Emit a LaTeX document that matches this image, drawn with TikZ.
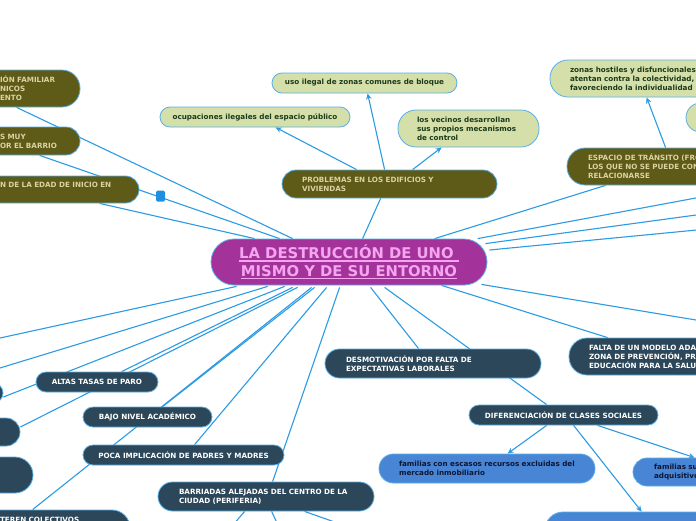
\documentclass[tikz,border=0pt]{standalone}
\usepackage{fontspec}
\setmainfont{DejaVu Sans}
\usetikzlibrary{arrows.meta,calc,backgrounds}
\definecolor{lnblue}{RGB}{43,155,227}
\definecolor{bdblue}{RGB}{90,175,230}
\definecolor{olivef}{RGB}{94,90,23}
\definecolor{olivet}{RGB}{218,211,162}
\definecolor{greenf}{RGB}{212,223,169}
\definecolor{greent}{RGB}{28,58,28}
\definecolor{slatef}{RGB}{44,71,89}
\definecolor{bluef}{RGB}{72,134,213}
\definecolor{bluet}{RGB}{13,21,51}
\definecolor{purplef}{RGB}{163,51,155}
\definecolor{purplet}{RGB}{244,165,238}
\definecolor{sqblue}{RGB}{31,144,223}
\newcommand\myul[1]{\setbox0\hbox{#1}\leavevmode\rlap{\rule[-2.8pt]{\wd0}{1.3pt}}\box0}
\newcommand\nb[1]{\mbox{#1}}
\tikzset{
  box/.style={draw=bdblue, line width=0.8pt, inner ysep=0pt, font=\fontsize{7.2}{9}\selectfont\bfseries},
  obox/.style={box, fill=olivef, text=olivet},
  gbox/.style={box, fill=greenf, text=greent},
  sbox/.style={box, fill=slatef, text=white},
  bbox/.style={box, fill=bluef, text=bluet},
  pbox/.style={box, fill=purplef, text=purplet, font=\fontsize{14.8}{17.5}\selectfont\bfseries},
  lft/.style={inner xsep=#1, align=left},
  conn/.style={draw=lnblue, line width=1.1pt},
  arr/.style={conn, -{Stealth[length=6pt,width=5.5pt]}},
}
\begin{document}
\begin{tikzpicture}[x=1pt,y=-1pt]
\useasboundingbox (0,0) rectangle (696,520);

% central
\node[pbox, minimum width=276pt, minimum height=46pt, rounded corners=23pt, align=center, inner xsep=0pt] (cen) at (349,262) {\myul{LA DESTRUCCIÓN DE UNO\ }\\\myul{MISMO Y DE SU ENTORNO}};

% olive
\node[obox, lft=20pt, minimum width=215pt, minimum height=28pt, rounded corners=14pt, text width=175pt] (prob) at (389.5,184) {\nb{PROBLEMAS EN LOS EDIFICIOS Y}\\\nb{VIVIENDAS}};
\node[obox, lft=21pt, minimum width=263pt, minimum height=37pt, rounded corners=18pt, text width=221pt] (esp) at (698.5,166.5) {\nb{ESPACIO DE TRÁNSITO (FRONTERAS) EN}\\\nb{LOS QUE NO SE PUEDE CONVIVIR NI}\\\nb{RELACIONARSE}};
\node[obox, lft=20pt, minimum width=100pt, minimum height=37pt, rounded corners=18pt, text width=60pt] (fam) at (30,88.5) {\nb{IÓN FAMILIAR}\\\nb{NICOS}\\\nb{ENTO}};
\node[obox, lft=20pt, minimum width=100pt, minimum height=28pt, rounded corners=14pt, text width=60pt] (muy) at (30,141) {\nb{S MUY}\\\nb{OR EL BARRIO}};
\node[obox, lft=20pt, minimum width=159pt, minimum height=27pt, rounded corners=13.5pt, text width=119pt] (edad) at (59.5,189.5) {\nb{N DE LA EDAD DE INICIO EN}\\~};

% green
\node[gbox, minimum width=185pt, minimum height=20pt, rounded corners=10pt] (uso) at (364.5,83) {uso ilegal de zonas comunes de bloque};
\node[gbox, minimum width=190pt, minimum height=20pt, rounded corners=10pt] (ocu) at (255,117) {ocupaciones ilegales del espacio público};
\node[gbox, lft=19pt, minimum width=141pt, minimum height=37pt, rounded corners=18pt, text width=103pt] (vec) at (468.5,128.5) {\nb{los vecinos desarrollan}\\\nb{sus propios mecanismos}\\\nb{de control}};
\node[gbox, lft=20pt, minimum width=250pt, minimum height=37pt, rounded corners=18pt, text width=210pt] (hos) at (675,78.5) {\nb{zonas hostiles y disfuncionales que}\\\nb{atentan contra la colectividad,}\\\nb{favoreciendo la individualidad}};
\node[gbox, minimum width=74pt, minimum height=29pt, rounded corners=14.5pt] (sm) at (723,117.5) {};

% slate
\node[sbox, minimum width=122pt, minimum height=20pt, rounded corners=10pt] (paro) at (97,382) {ALTAS TASAS DE PARO};
\node[sbox, minimum width=129pt, minimum height=20pt, rounded corners=10pt] (bajo) at (147.5,417) {BAJO NIVEL ACADÉMICO};
\node[sbox, minimum width=201pt, minimum height=20pt, rounded corners=10pt] (poca) at (183.5,455) {POCA IMPLICACIÓN DE PADRES Y MADRES};
\node[sbox, lft=21pt, minimum width=216pt, minimum height=29pt, rounded corners=14.5pt, text width=174pt] (barr) at (266,496.5) {\nb{BARRIADAS ALEJADAS DEL CENTRO DE LA}\\\nb{CIUDAD (PERIFERIA)}};
\node[sbox, lft=21pt, minimum width=216pt, minimum height=29pt, rounded corners=14.5pt, text width=174pt] (desm) at (433,363.5) {\nb{DESMOTIVACIÓN POR FALTA DE}\\\nb{EXPECTATIVAS LABORALES}};
\node[sbox, minimum width=189pt, minimum height=20pt, rounded corners=10pt] (dif) at (563.5,415) {DIFERENCIACIÓN DE CLASES SOCIALES};
\node[sbox, lft=20pt, minimum width=261pt, minimum height=37pt, rounded corners=18pt, text width=221pt] (falta) at (699.5,356.5) {\nb{FALTA DE UN MODELO ADAPTADO A LA}\\\nb{ZONA DE PREVENCIÓN, PROMOCIÓN Y}\\\nb{EDUCACIÓN PARA LA SALUD}};
\node[sbox, minimum width=103pt, minimum height=20pt, rounded corners=10pt] (sla) at (-48.5,393) {};
\node[sbox, minimum width=120pt, minimum height=28pt, rounded corners=14pt] (slb) at (-40,432) {};
\node[sbox, minimum width=133pt, minimum height=36pt, rounded corners=18pt] (slc) at (-33.5,475) {};
\node[sbox, lft=20pt, minimum width=150pt, minimum height=37pt, rounded corners=18pt, text width=110pt] (sld) at (55,528.5) {\nb{TEREN COLECTIVOS}\\~\\~};

% blue
\node[bbox, lft=20pt, minimum width=216pt, minimum height=29pt, rounded corners=14.5pt, text width=176pt] (esc) at (487,468.5) {\nb{familias con escasos recursos excluidas del}\\\nb{mercado inmobiliario}};
\node[bbox, lft=21pt, minimum width=167pt, minimum height=28pt, rounded corners=14pt, text width=125pt] (su) at (716.5,472) {\nb{familias superiores en poder}\\\nb{adquisitivo}};
\node[bbox, minimum width=255pt, minimum height=37pt, rounded corners=18pt] (bot) at (672.5,530.5) {};

% marker
\node[fill=sqblue, minimum width=9pt, minimum height=11pt, inner sep=0pt, rounded corners=1.5pt] (sq) at (160.5,196) {};

% free ends
\coordinate (offRa) at (705,196.3);
\coordinate (offRb) at (705,213.8);
\coordinate (offRc) at (705,229.2);
\coordinate (offRd) at (705,321.5);
\coordinate (offLa) at (-5,339.1);
\coordinate (offLb) at (-5,369.5);
\coordinate (offBa) at (233,525);
\coordinate (offBb) at (278,525);
\coordinate (offBc) at (343,525);

\begin{scope}[on background layer]
\fill[white] (0,0) rectangle (696,520);
\draw[conn] ($(cen.north west)+(82,0)$) -- ($(fam.south west)+(37,0)$);
\draw[conn] ($(cen.north west)+(69,0)$) -- ($(muy.south west)+(60,0)$);
\draw[conn] ($(cen.north west)+(44,0)$) -- ($(edad.south west)+(120,0)$);
\draw[conn] ($(cen.north west)+(224,0)$) -- ($(esp.south west)+(39,0)$);
\draw[conn] ($(cen.north west)+(267,0)$) -- (offRa);
\draw[conn] ($(cen.north east)+(-2,5)$) -- (offRb);
\draw[conn] ($(cen.east)+(2,-12)$) -- (offRc);
\draw[conn] ($(cen.south east)+(-6,-1)$) -- (offRd);
\draw[conn] ($(cen.south west)+(231,0)$) -- ($(falta.north west)+(39,0)$);
\draw[conn] ($(cen.north west)+(152,0)$) -- ($(prob.south west)+(99,0)$);
\draw[arr] ($(prob.north west)+(75,0)$) -- ($(ocu.south west)+(116,0)$);
\draw[arr] ($(prob.north west)+(103,0)$) -- ($(uso.south west)+(96,0)$);
\draw[arr] ($(prob.north west)+(131,0)$) -- ($(vec.south west)+(44,0)$);
\draw[arr] ($(esp.north west)+(99,0)$) -- ($(hos.south west)+(97,0)$);
\draw[conn] ($(cen.south west)+(26,1)$) -- (offLa);
\draw[conn] ($(cen.south west)+(57,1)$) -- (offLb);
\draw[conn] ($(cen.south west)+(74,1)$) -- ($(sla.east)+(0,4)$);
\draw[conn] ($(cen.south west)+(82,2)$) -- ($(paro.north west)+(86,0)$);
\draw[conn] ($(cen.south west)+(87,2)$) -- ($(slb.east)+(0,-5)$);
\draw[conn] ($(cen.south west)+(104,2)$) -- ($(bajo.north west)+(80,0)$);
\draw[conn] ($(cen.south west)+(101,2)$) -- ($(sld.north west)+(53,0)$);
\draw[conn] ($(cen.south west)+(116,2)$) -- ($(poca.north west)+(112,0)$);
\draw[conn] ($(cen.south west)+(129,2)$) -- ($(barr.north west)+(115,0)$);
\draw[conn] ($(cen.south west)+(160,2)$) -- ($(desm.north west)+(94,0)$);
\draw[conn] ($(cen.south west)+(174,2)$) -- ($(dif.north west)+(78,0)$);
\draw[arr] ($(dif.south west)+(78,0)$) -- ($(esc.north west)+(129,0)$);
\draw[arr] ($(dif.south west)+(129,0)$) -- ($(su.north west)+(62,0)$);
\draw[arr] ($(dif.south west)+(105,0)$) -- ($(bot.north west)+(97,0)$);
\draw[conn] ($(barr.south west)+(87,0)$) -- (offBa);
\draw[conn] ($(barr.south west)+(114,0)$) -- (offBb);
\draw[conn] ($(barr.south west)+(147,0)$) -- (offBc);
\end{scope}
\end{tikzpicture}
\end{document}
